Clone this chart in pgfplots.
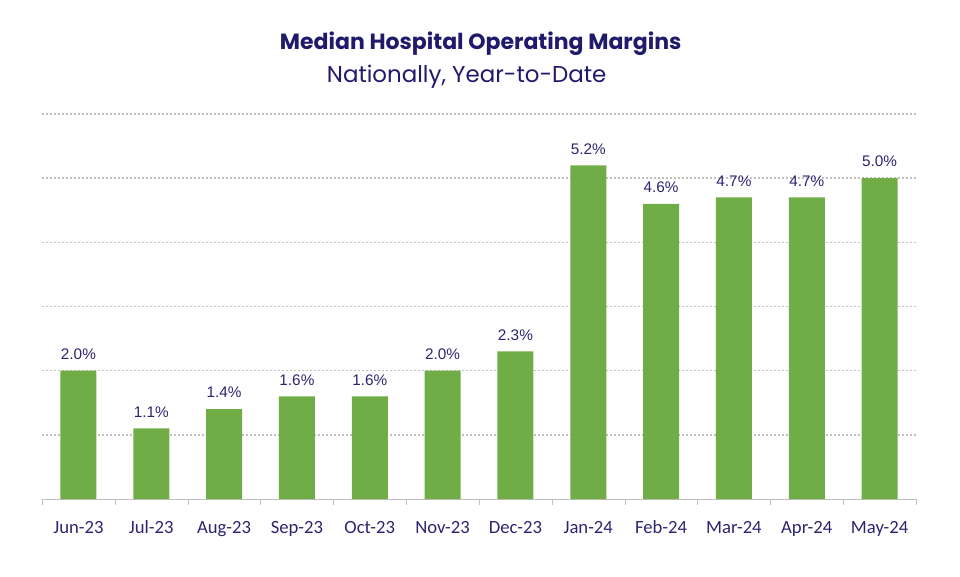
\documentclass[border=0pt]{standalone}
\usepackage{pgfplots}
\pgfplotsset{compat=1.18}
\usepackage{fontspec}
\setmainfont{Liberation Sans}
\newfontfamily\titlefont{Poppins}
\newfontfamily\tickfont{Carlito}
\definecolor{barcol}{HTML}{70AD47}
\definecolor{navy}{HTML}{201A6B}
\definecolor{labcol}{HTML}{2B2570}
\definecolor{gridcol}{HTML}{BFBFBF}

\begin{document}
\begin{tikzpicture}[x=1pt,y=1pt]
  % image frame: 960x576 px at 0.75pt per px, axis origin at (42,499) px
  \path (-31.5pt,-57.75pt) rectangle (688.5pt,374.25pt);
  \begin{axis}[
    at={(0,0)}, anchor=south west,
    scale only axis,
    width=655.5pt, height=288.75pt,
    ybar, bar width=27pt,
    xmin=-0.5, xmax=11.5,
    ymin=0, ymax=6,
    axis x line=bottom,
    axis y line=left,
    x axis line style={draw=gridcol, -},
    y axis line style={draw=none},
    xtick={0,...,11},
    xticklabels={Jun-23,Jul-23,Aug-23,Sep-23,Oct-23,Nov-23,Dec-23,Jan-24,Feb-24,Mar-24,Apr-24,May-24},
    major x tick style={draw=none},
    minor xtick={-0.5,0.5,...,11.5},
    minor x tick style={draw=gridcol},
    tick align=outside,
    minor tick length=4.5pt,
    xticklabel style={font=\tickfont\fontsize{14}{16}\selectfont, text=labcol, inner sep=0pt, anchor=base, yshift=-21.5pt},
    ytick={1,...,6},
    yticklabels={},
    major y tick style={draw=none},
    ymajorgrids,
    major grid style={draw=gridcol, line width=1.2pt, dash pattern=on 1.4pt off 1.6pt},
    nodes near coords={\pgfmathprintnumber[fixed, fixed zerofill, precision=1]{\pgfplotspointmeta}\%},
    every node near coord/.append style={font=\fontsize{11.5}{13}\selectfont, text=labcol, anchor=base, inner sep=0pt, yshift=8.5pt},
    /pgf/number format/assume math mode=true,
  ]
    \addplot[fill=barcol, draw=none] coordinates {
      (0,2.0) (1,1.1) (2,1.4) (3,1.6) (4,1.6) (5,2.0)
      (6,2.3) (7,5.2) (8,4.6) (9,4.7) (10,4.7) (11,5.0)
    };
  \end{axis}
  \node[text=navy, font=\titlefont\fontsize{16.5}{19}\selectfont\bfseries] at (329pt,341.25pt) {Median Hospital Operating Margins};
  \node[text=navy, font=\titlefont\fontsize{17.2}{20}\selectfont] at (318.5pt,316.5pt) {Nationally, Year-to-Date};
\end{tikzpicture}
\end{document}
